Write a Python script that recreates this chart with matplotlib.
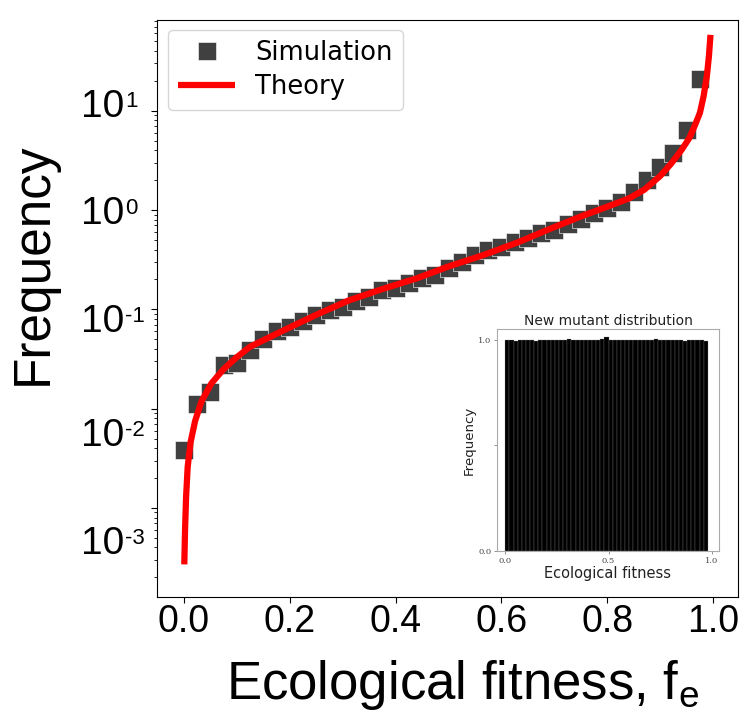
import matplotlib
matplotlib.use("Agg")
import matplotlib.pyplot as plt
from matplotlib.font_manager import FontProperties

plt.rcParams['font.family'] = ['Liberation Sans', 'DejaVu Sans']
plt.rcParams['mathtext.fontset'] = 'custom'
plt.rcParams['mathtext.rm'] = 'Liberation Sans'
plt.rcParams['mathtext.it'] = 'Liberation Sans:italic'

# ---- data ----
sim_x = [0.0, 0.025, 0.05, 0.075, 0.1, 0.125, 0.15, 0.175, 0.2, 0.225,
         0.25, 0.275, 0.3, 0.325, 0.35, 0.375, 0.4, 0.425, 0.45, 0.475,
         0.5, 0.525, 0.55, 0.575, 0.6, 0.625, 0.65, 0.675, 0.7, 0.725,
         0.75, 0.775, 0.8, 0.825, 0.85, 0.875, 0.9, 0.925, 0.95, 0.975]
sim_y = [0.0038, 0.011, 0.0146, 0.0275, 0.029, 0.039, 0.050, 0.060, 0.067, 0.077,
         0.088, 0.098, 0.106, 0.120, 0.134, 0.157, 0.163, 0.183, 0.206, 0.22,
         0.26, 0.30, 0.352, 0.395, 0.427, 0.48, 0.52, 0.58, 0.63, 0.72,
         0.82, 0.925, 1.04, 1.21, 1.53, 2.0, 2.7, 3.72, 6.4, 20.7]

theory_x = [0.0006, 0.002, 0.004, 0.007, 0.0125, 0.021, 0.033, 0.052, 0.075, 0.1,
            0.125, 0.19, 0.25, 0.31, 0.375, 0.44, 0.5, 0.565, 0.63, 0.69,
            0.75, 0.8, 0.84, 0.87, 0.9, 0.92, 0.94, 0.955, 0.965, 0.975,
            0.982, 0.988, 0.992, 0.995]
theory_y = [2.7e-4, 6e-4, 1.3e-3, 2.6e-3, 4.6e-3, 7.5e-3, 0.0118, 0.018, 0.025, 0.033,
            0.042, 0.062, 0.088, 0.122, 0.16, 0.205, 0.27, 0.35, 0.47, 0.64,
            0.86, 1.08, 1.3, 1.6, 2.2, 2.9, 4.0, 5.3, 7.0, 9.5,
            14.0, 22.0, 35.0, 58.0]

# y tick labels as they appear in the reference (overlaid, left aligned)
ytick_exponents = ['1', '0', '-1', '-2', '-3']
ytick_label_baseline_px = [117, 224, 332, 446, 554]

xtick_values = [0.0, 0.2, 0.4, 0.6, 0.8, 1.0]
xtick_labels = ['0.0', '0.2', '0.4', '0.6', '0.8', '1.0']

inset_edges = [i / 50 for i in range(49)]
inset_heights = [1.0, 1.0, 0.995, 1.0, 1.0, 1.0, 1.0, 0.995, 1.0, 1.0,
                 1.0, 1.0, 1.0, 1.0, 1.0, 1.005, 1.0, 1.0, 1.0, 1.0,
                 1.0, 1.0, 1.0, 1.005, 1.01, 1.0, 1.0, 1.0, 1.0, 1.0,
                 1.0, 1.0, 1.0, 1.0, 1.0, 1.0, 1.005, 1.0, 1.0, 1.0,
                 1.0, 1.0, 1.0, 0.995, 1.0, 1.0, 1.0, 1.0, 0.995]

# ---- figure ----
W, H = 751, 720
fig = plt.figure(figsize=(W / 100, H / 100), dpi=100)
L, R, T, B = 157, 738, 20, 597
ax = fig.add_axes([L / W, 1 - B / H, (R - L) / W, (B - T) / H])

ax.plot(sim_x, sim_y, 's', ms=12.5, color='#404040', mec='white', mew=0.4,
        label='Simulation', zorder=2)
ax.plot(theory_x, theory_y, '-', color='#ff0000', lw=4.5, label='Theory',
        zorder=3, solid_capstyle='butt')

ax.set_yscale('log')
ax.set_xlim(-0.051, 1.047)
ax.set_ylim(10 ** -3.897, 10 ** 1.913)
ax.set_xticks(xtick_values)
ax.set_xticklabels(xtick_labels)
ax.tick_params(axis='x', labelsize=27, pad=1, length=4)
ax.tick_params(axis='y', which='major', length=4, labelleft=False)
ax.tick_params(axis='y', which='minor', length=2.5, labelleft=False)

renderer = fig.canvas.get_renderer()
for ex, yb in zip(ytick_exponents, ytick_label_baseline_px):
    base = fig.text(81 / W, 1 - yb / H, '10', fontsize=28, ha='left',
                    va='baseline')
    bb = base.get_window_extent(renderer)
    fig.text((bb.x1 + 1) / W, 1 - (yb - 10) / H, ex, fontsize=16,
             ha='left', va='baseline')

ax.set_xlabel('Ecological fitness, f$_\\mathregular{e}$', fontsize=38, va='center')
ax.xaxis.set_label_coords((462 - L) / (R - L), (B - 685) / (B - T))
ax.set_ylabel('Frequency', fontsize=37, va='center', ha='center')
ax.yaxis.set_label_coords((33 - L) / (R - L), (B - 264) / (B - T))

leg = ax.legend(loc='upper left',
                bbox_to_anchor=((168 - L) / (R - L), 1 - (30 - T) / (B - T)),
                borderaxespad=0, numpoints=1,
                prop=FontProperties(family='DejaVu Sans', size=18.5),
                labelspacing=0.3, handlelength=2.2)

# ---- inset ----
iL, iR, iT, iB = 497, 719, 329, 551
ax_in = fig.add_axes([iL / W, 1 - iB / H, (iR - iL) / W, (iB - iT) / H])
ax_in.bar(inset_edges, inset_heights, width=0.02, align='edge',
          color='black', edgecolor='#888888', linewidth=0.2)
ax_in.set_xlim(-0.04, 1.034)
ax_in.set_ylim(0, 1.05)
ax_in.set_xticks([0.0, 0.5, 1.0])
ax_in.set_xticklabels(['0.0', '0.5', '1.0'])
ax_in.set_yticks([0.0, 0.5, 1.0])
ax_in.set_yticklabels(['0.0', '', '1.0'])
for lab in ax_in.get_xticklabels() + ax_in.get_yticklabels():
    lab.set_family('DejaVu Serif')
    lab.set_fontsize(6)
    lab.set_color('#444444')
ax_in.tick_params(length=2, width=0.5, pad=2, color='#666666')
for s in ax_in.spines.values():
    s.set_color('#aaaaaa')
    s.set_linewidth(0.8)
ax_in.set_title('New mutant distribution', family='DejaVu Sans', fontsize=10,
                pad=3, color='#222222')
ax_in.set_xlabel('Ecological fitness', family='DejaVu Sans', fontsize=10.5,
                 labelpad=1, color='#222222')
ax_in.set_ylabel('Frequency', family='DejaVu Sans', fontsize=9.6,
                 labelpad=2, color='#222222')

fig.savefig('out.png', dpi=100)
